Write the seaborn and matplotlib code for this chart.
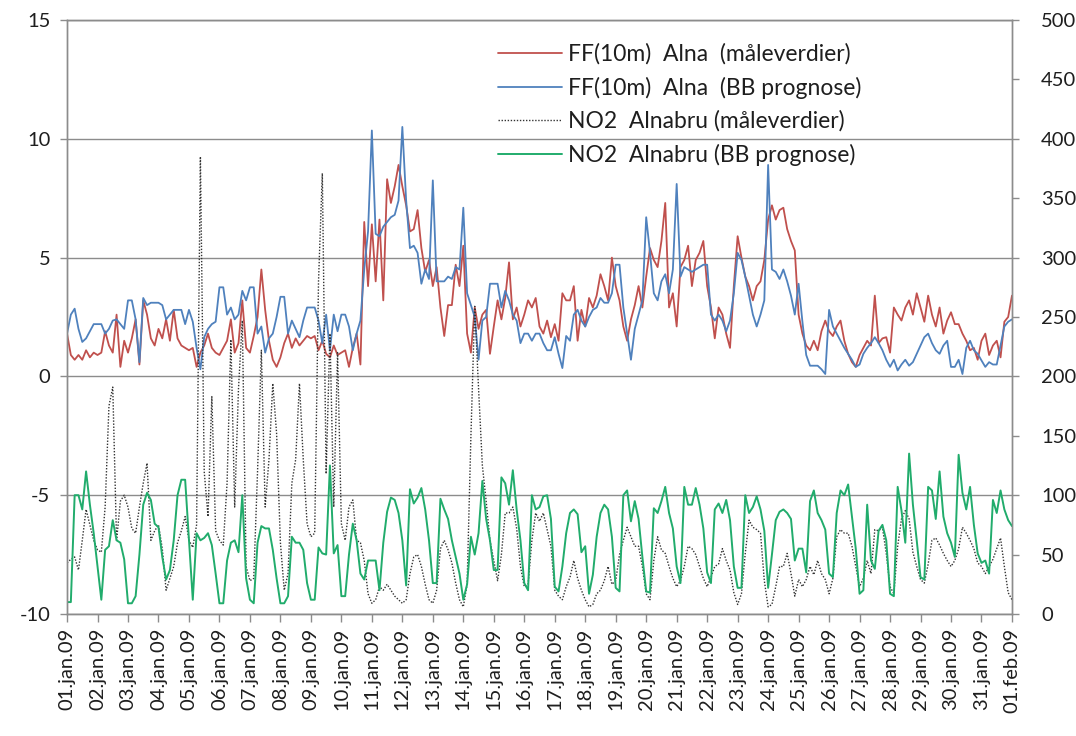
import numpy as np
import pandas as pd
import matplotlib
matplotlib.use("Agg")
import matplotlib.pyplot as plt
import seaborn as sns

# Three-hourly values, 01.01.2009 00:00 to 01.02.2009 00:00 (8 per day + end point)
ff_maaleverdier = [
    1.8, 0.9, 0.7, 0.9, 0.7, 1.1, 0.8, 1.0,
    0.9, 1.0, 1.9, 1.3, 1.0, 2.6, 0.4, 1.5,
    1.0, 1.6, 2.4, 0.5, 3.2, 2.6, 1.6, 1.3,
    2.0, 1.6, 2.4, 1.5, 2.8, 1.6, 1.3, 1.2,
    1.1, 1.2, 0.4, 1.0, 1.3, 1.8, 1.2, 1.0,
    0.9, 1.2, 1.5, 2.4, 1.0, 1.4, 3.2, 1.2,
    1.0, 1.7, 2.5, 4.5, 2.8, 1.5, 0.7, 0.4,
    0.8, 1.4, 1.8, 1.2, 1.6, 1.3, 1.5, 1.7,
    1.6, 1.7, 1.1, 1.5, 0.95, 0.8, 1.3, 0.9,
    1.0, 1.1, 0.4, 1.2, 1.8, 0.5, 6.5, 3.8,
    6.4, 4.0, 6.6, 3.2, 8.3, 7.3, 8.0, 8.9,
    8.0, 7.2, 6.1, 6.2, 7.0, 5.4, 4.4, 4.9,
    3.8, 4.6, 2.9, 1.7, 3.0, 3.0, 4.7, 3.8,
    5.5, 1.8, 1.0, 2.9, 2.0, 2.6, 2.8, 0.95,
    2.1, 3.2, 2.4, 3.3, 4.8, 2.4, 2.9, 2.1,
    2.6, 3.2, 2.9, 3.3, 2.1, 1.8, 2.35, 1.65,
    2.2, 1.5, 3.5, 3.2, 3.2, 3.8, 1.5, 2.8,
    2.1, 3.3, 2.9, 3.4, 4.3, 3.8, 3.2, 5.0,
    3.8, 3.2, 2.1, 1.5, 2.4, 3.0, 3.8, 2.9,
    4.2, 5.4, 4.9, 4.6, 5.7, 7.3, 2.9, 3.5,
    2.1, 4.6, 4.9, 5.5, 3.8, 4.9, 5.2, 5.7,
    3.8, 2.9, 1.6, 2.9, 2.6, 1.8, 1.2, 3.8,
    5.9, 5.0, 4.2, 3.8, 3.2, 3.8, 4.0, 4.9,
    6.6, 7.2, 6.6, 7.0, 7.1, 6.2, 5.7, 5.3,
    2.6, 1.8, 1.3, 1.1, 1.5, 1.1, 1.9, 2.35,
    1.9, 1.7, 2.1, 2.35, 1.5, 0.95, 0.6, 0.4,
    0.9, 1.2, 1.5, 1.3, 3.4, 1.4, 1.6, 1.65,
    1.0, 2.9, 2.6, 2.35, 2.9, 3.2, 2.6, 3.5,
    2.9, 2.3, 3.4, 2.6, 2.1, 2.9, 1.8, 2.35,
    2.7, 2.2, 2.2, 1.8, 1.5, 1.1, 1.2, 0.7,
    1.5, 1.8, 0.9, 1.3, 1.5, 0.8, 2.3, 2.5,
    3.4,
]

ff_prognose = [
    1.8, 2.6, 2.85, 2.0, 1.45, 1.6, 1.9, 2.2,
    2.2, 2.2, 1.8, 2.0, 2.35, 2.4, 2.2, 2.0,
    3.2, 3.2, 2.4, 0.6, 3.3, 3.0, 3.1, 3.1,
    3.1, 3.0, 2.4, 2.6, 2.8, 2.8, 2.8, 2.2,
    2.8, 2.3, 1.2, 0.3, 1.65, 2.0, 2.2, 2.3,
    3.75, 3.75, 2.6, 2.9, 2.4, 2.6, 3.6, 3.2,
    3.75, 3.75, 1.8, 2.1, 1.0, 1.6, 1.8, 2.5,
    3.35, 3.35, 1.8, 2.35, 2.0, 1.65, 2.35, 2.9,
    2.9, 2.9, 2.35, 1.4, 2.6, 1.1, 2.6, 1.9,
    2.6, 2.6, 2.1, 1.1, 1.8, 2.35, 4.5, 6.1,
    10.35, 6.0, 5.9, 6.3, 6.5, 6.7, 6.8, 7.4,
    10.5, 7.4, 5.4, 5.5, 5.2, 3.9, 4.5, 4.1,
    8.25, 4.0, 4.0, 4.0, 4.2, 4.1, 4.6, 4.5,
    7.1, 3.5, 3.0, 2.5, 0.7, 2.35, 2.5, 3.9,
    3.9, 3.9, 2.9, 3.6, 3.2, 2.6, 2.35, 1.4,
    1.8, 1.8, 1.5, 1.8, 1.8, 1.4, 1.1, 1.1,
    1.65, 0.95, 0.35, 1.7, 1.5, 2.6, 2.8, 2.35,
    2.1, 2.5, 2.8, 2.9, 3.3, 3.1, 3.1, 3.5,
    4.7, 4.7, 2.9, 1.8, 0.7, 2.0, 2.6, 3.2,
    6.7, 5.2, 3.5, 3.2, 4.0, 4.3, 3.5, 4.5,
    8.1, 4.2, 4.6, 4.5, 4.4, 4.5, 4.6, 4.7,
    4.7, 2.6, 2.35, 2.6, 2.35, 1.9, 2.35, 3.5,
    5.2, 4.9, 4.2, 3.4, 2.6, 2.1, 2.6, 3.2,
    8.9, 4.5, 4.4, 4.1, 4.5, 4.0, 3.4, 2.6,
    3.9, 2.3, 0.9, 0.45, 0.45, 0.45, 0.3, 0.1,
    2.8, 2.1, 1.8, 1.5, 1.2, 0.95, 0.7, 0.4,
    0.5, 0.95, 1.2, 1.4, 1.65, 1.4, 1.1, 0.7,
    0.4, 0.7, 0.25, 0.5, 0.7, 0.45, 0.6, 0.95,
    1.3, 1.65, 1.8, 1.4, 1.1, 0.95, 1.3, 1.5,
    0.4, 0.4, 0.7, 0.1, 1.2, 1.5, 1.1, 0.95,
    0.67, 0.4, 0.6, 0.5, 0.5, 1.3, 2.1, 2.3,
    2.4,
]

no2_maaleverdier = [
    43, 46, 48, 37, 62, 88, 75, 62,
    54, 52, 90, 175, 191, 62, 95, 100,
    90, 72, 68, 90, 110, 127, 62, 70,
    75, 55, 20, 30, 40, 60, 70, 82,
    62, 56, 75, 385, 120, 82, 183, 70,
    62, 58, 110, 231, 90, 190, 247, 40,
    28, 30, 120, 222, 90, 130, 194, 152,
    60, 20, 34, 110, 130, 194, 130, 76,
    65, 68, 280, 371, 118, 236, 90, 220,
    76, 62, 90, 96, 62, 60, 45, 17,
    9, 12, 23, 20, 25, 20, 15, 12,
    9, 12, 34, 48, 50, 40, 25, 12,
    9, 20, 55, 62, 54, 43, 26, 12,
    6, 25, 150, 259, 190, 125, 95, 62,
    45, 28, 50, 85, 85, 90, 72, 40,
    23, 25, 62, 85, 78, 85, 71, 57,
    20, 15, 12, 23, 31, 45, 30, 20,
    12, 6, 8, 17, 20, 28, 40, 25,
    28, 50, 62, 73, 65, 57, 57, 40,
    17, 12, 45, 65, 54, 51, 40, 30,
    23, 28, 40, 57, 55, 50, 40, 30,
    23, 31, 40, 42, 55, 45, 37, 18,
    8, 17, 51, 79, 73, 71, 68, 28,
    6, 8, 23, 40, 40, 51, 34, 15,
    29, 23, 29, 40, 33, 45, 34, 29,
    17, 30, 65, 71, 68, 68, 57, 40,
    23, 30, 45, 34, 71, 70, 73, 51,
    23, 17, 57, 80, 87, 80, 52, 40,
    29, 26, 42, 62, 64, 58, 51, 45,
    40, 45, 55, 73, 68, 62, 55, 43,
    40, 34, 40, 46, 55, 64, 40, 18,
    12,
]

no2_prognose = [
    10, 10, 100, 100, 88, 120, 92, 68,
    40, 12, 54, 57, 79, 62, 60, 46,
    9, 9, 15, 50, 92, 102, 96, 76,
    73, 48, 29, 37, 62, 100, 113, 113,
    62, 12, 68, 62, 64, 68, 58, 34,
    9, 9, 45, 60, 62, 52, 100, 30,
    12, 9, 60, 74, 72, 72, 54, 30,
    9, 9, 15, 65, 60, 60, 54, 26,
    12, 12, 56, 51, 50, 125, 51, 58,
    15, 15, 50, 76, 62, 34, 29, 45,
    45, 45, 20, 60, 86, 98, 96, 85,
    62, 24, 105, 93, 98, 106, 88, 62,
    26, 26, 97, 88, 80, 62, 48, 34,
    12, 25, 65, 50, 68, 112, 80, 62,
    37, 37, 115, 110, 92, 121, 88, 62,
    26, 20, 100, 88, 90, 99, 100, 80,
    23, 19, 40, 68, 85, 88, 84, 52,
    57, 17, 33, 65, 85, 92, 88, 65,
    22, 19, 100, 104, 78, 95, 80, 48,
    19, 18, 89, 85, 95, 107, 85, 72,
    40, 26, 107, 92, 92, 106, 92, 72,
    35, 26, 88, 93, 85, 96, 79, 40,
    22, 22, 100, 85, 90, 99, 88, 70,
    22, 50, 79, 86, 88, 85, 80, 45,
    55, 55, 35, 95, 104, 85, 79, 71,
    34, 31, 85, 104, 100, 109, 82, 55,
    17, 20, 92, 45, 38, 70, 75, 62,
    17, 15, 107, 87, 60, 135, 92, 62,
    31, 29, 107, 104, 80, 120, 82, 68,
    60, 48, 134, 102, 88, 107, 75, 51,
    43, 45, 34, 96, 85, 104, 88, 79,
    74,
]

series_labels = [
    "FF(10m)  Alna  (måleverdier)",
    "FF(10m)  Alna  (BB prognose)",
    "NO2  Alnabru (måleverdier)",
    "NO2  Alnabru (BB prognose)",
]

day_ticks = pd.date_range("2009-01-01", "2009-02-01", freq="D")
tick_labels = [f"{d:02d}.jan.09" for d in range(1, 32)] + ["01.feb.09"]

left_ticks = [-10, -5, 0, 5, 10, 15]
right_ticks = list(range(0, 501, 50))

times = pd.date_range("2009-01-01", periods=len(ff_maaleverdier), freq="3h")
df = pd.DataFrame({
    "tid": times,
    "ff_maal": ff_maaleverdier,
    "ff_prog": ff_prognose,
    "no2_maal": no2_maaleverdier,
    "no2_prog": no2_prognose,
})

sns.set_style("white")
plt.rcParams["font.family"] = ["Lato", "DejaVu Sans"]

grey = "#8c8c8c"
text_col = "#1e1e1e"
fig = plt.figure(figsize=(10.76, 7.36), dpi=100)
ax = fig.add_axes([0.0623, 0.1658, 0.9405 - 0.0623, 0.9728 - 0.1658])
ax2 = ax.twinx()

sns.lineplot(data=df, x="tid", y="ff_maal", ax=ax, color="#C0504D",
             linewidth=1.3, label=series_labels[0])
sns.lineplot(data=df, x="tid", y="ff_prog", ax=ax, color="#4F81BD",
             linewidth=1.3, label=series_labels[1])
sns.lineplot(data=df, x="tid", y="no2_maal", ax=ax2, color="#333333",
             linewidth=1.0, linestyle=(0, (1, 1.2)), label=series_labels[2])
sns.lineplot(data=df, x="tid", y="no2_prog", ax=ax2, color="#21AC6C",
             linewidth=1.4, label=series_labels[3])

for a in (ax, ax2):
    if a.get_legend() is not None:
        a.get_legend().remove()
    a.set_xlabel("")
    a.set_ylabel("")
    for s in a.spines.values():
        s.set_color(grey)
        s.set_linewidth(1.0)

ax.set_xlim(day_ticks[0], day_ticks[-1])
ax.set_ylim(-10, 15)
ax.set_yticks(left_ticks)
ax.set_yticklabels([str(t) for t in left_ticks])
ax2.set_ylim(0, 500)
ax2.set_yticks(right_ticks)
ax2.set_yticklabels([str(t) for t in right_ticks])

ax.set_xticks(day_ticks)
ax.set_xticklabels(tick_labels, rotation=90, ha="center", va="top")

ax.grid(axis="y", color=grey, linewidth=1.0)
ax.grid(axis="x", visible=False)
ax2.grid(False)
ax.set_axisbelow(True)

ax.tick_params(axis="x", direction="out", length=6, width=1, color=grey,
               labelsize=14.5, labelcolor=text_col, pad=4, bottom=True)
ax.tick_params(axis="y", direction="out", length=5, width=1, color=grey,
               labelsize=14.5, labelcolor=text_col, pad=7, left=True)
ax2.tick_params(axis="y", direction="out", length=5, width=1, color=grey,
                labelsize=14.5, labelcolor=text_col, pad=16, right=True)

h1, l1 = ax.get_legend_handles_labels()
h2, l2 = ax2.get_legend_handles_labels()
leg = ax2.legend(h1 + h2, l1 + l2, loc="upper left",
                 bbox_to_anchor=(0.4433, 0.969), bbox_transform=fig.transFigure,
                 frameon=False, fontsize=16.5, handlelength=2.8,
                 handletextpad=0.28, labelspacing=0.51, borderpad=0.4)
for t in leg.get_texts():
    t.set_color(text_col)

fig.savefig("out.png", dpi=100)
